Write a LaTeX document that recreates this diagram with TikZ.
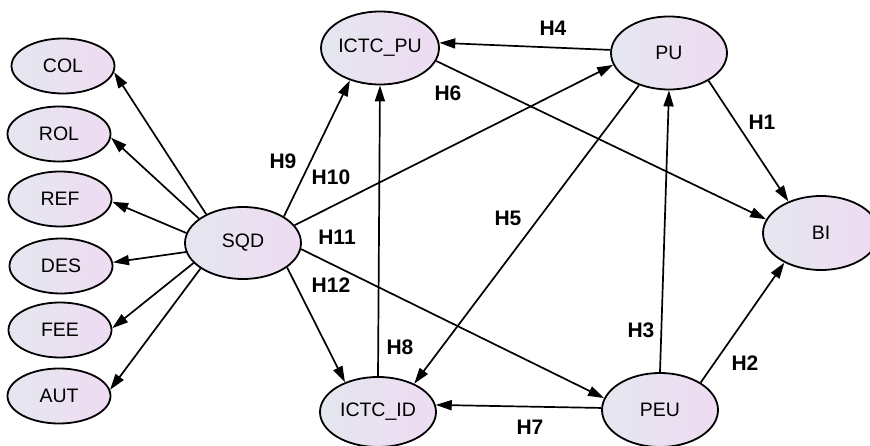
\documentclass[tikz,border=0pt]{standalone}
\usepackage{fontspec}
\setmainfont{Liberation Sans}
\usetikzlibrary{arrows.meta,shapes.geometric}
\definecolor{fillL}{HTML}{E4E7EF}
\definecolor{fillR}{HTML}{EFDBF2}
\begin{document}
\begin{tikzpicture}[x=1pt,y=-1pt,
  lv/.style={ellipse,draw=black,line width=1.8pt,left color=fillL,right color=fillR,
    inner sep=0pt,font=\fontsize{19.5}{20}\selectfont},
  big/.style={lv,minimum width=116pt,minimum height=72pt},
  small/.style={lv,minimum width=103pt,minimum height=55pt},
  conn/.style={line width=1.7pt,-{Triangle[length=16pt,width=10pt]}},
  hl/.style={font=\bfseries\fontsize{21}{22}\selectfont}]
\useasboundingbox (0,0) rectangle (870,446);

% nodes
\node[small] (COL) at (63,66) {COL};
\node[small] (ROL) at (59,134) {ROL};
\node[small] (REF) at (60,199) {REF};
\node[small] (DES) at (61,266) {DES};
\node[small] (FEE) at (60,330) {FEE};
\node[small] (AUT) at (59,396) {AUT};
\node[big] (SQD) at (243,243) {SQD};
\node[big,minimum height=73pt] (ICTCPU) at (380,48) {ICTC\_PU};
\node[big,minimum height=73pt] (PU) at (669,53) {PU};
\node[big,minimum height=70pt] (ICTCID) at (378,412) {ICTC\_ID};
\node[big,minimum height=74pt] (PEU) at (660,410) {PEU};
\node[big,minimum height=74pt] (BI) at (821,233) {BI};

% measurement edges
\draw[conn] (SQD.142) -- (COL.-7);
\draw[conn] (SQD.151) -- (ROL.-4.5);
\draw[conn] (SQD.170) -- (REF.-3);
\draw[conn] (SQD.189) -- (DES.4);
\draw[conn] (SQD.202) -- (FEE.2);
\draw[conn] (SQD.211) -- (AUT.7);

% structural edges
\draw[conn] (SQD.33) -- (ICTCPU.227);
\draw[conn] (SQD.19) -- (PU.192);
\draw[conn] (SQD.354) -- (PEU.168);
\draw[conn] (SQD.331) -- (ICTCID.138);
\draw[conn] (ICTCID.north) -- (ICTCPU.south);
\draw[conn] (PU.177) -- (ICTCPU.5);
\draw[conn] (ICTCPU.347) -- (BI.166);
\draw[conn] (PU.227) -- (ICTCID.38);
\draw[conn] (PEU.north) -- (PU.south);
\draw[conn] (PU.325) -- (BI.136);
\draw[conn] (PEU.34) -- (BI.219);
\draw[conn] (PEU.178) -- (ICTCID.7);

% labels
\node[hl] (h1) at (762,122) {H1};
\node[hl] (h2) at (745,363) {H2};
\node[hl] (h3) at (641,330) {H3};
\node[hl] (h4) at (553,28) {H4};
\node[hl] (h5) at (508,218) {H5};
\node[hl] (h6) at (448,93) {H6};
\node[hl] (h7) at (530,427) {H7};
\node[hl] (h8) at (400,347) {H8};
\node[hl] (h9) at (283,161) {H9};
\node[hl] (h10) at (331,177) {H10};
\node[hl] (h11) at (337,237) {H11};
\node[hl] (h12) at (331,285) {H12};
\end{tikzpicture}
\end{document}
